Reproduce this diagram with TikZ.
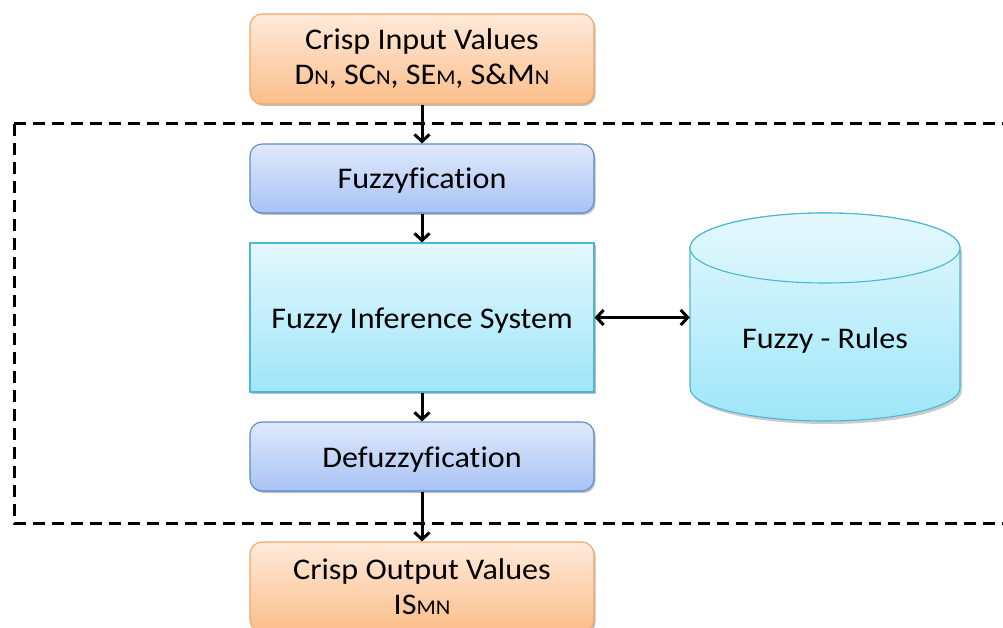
\documentclass[tikz,border=0pt]{standalone}
\usepackage{fontspec}
\setmainfont{Carlito}[Ligatures=NoCommon, FakeStretch=1.07]
\usetikzlibrary{arrows.meta,shadows}

\definecolor{orTop}{HTML}{FEEADB}
\definecolor{orBot}{HTML}{FBBE8A}
\definecolor{orLine}{HTML}{F6A465}
\definecolor{blTop}{HTML}{E0E9FB}
\definecolor{blBot}{HTML}{A7C3F5}
\definecolor{blLine}{HTML}{5A8ACB}
\definecolor{cyTop}{HTML}{E4F8FD}
\definecolor{cyBot}{HTML}{9EE6F9}
\definecolor{cyLine}{HTML}{4DB6D3}

\newcommand\smallsub[1]{{\fontsize{21}{21}\selectfont #1}}

\tikzset{
  softshadow/.style={drop shadow={shadow xshift=1.5pt,shadow yshift=-2pt,opacity=0.25,fill=black}},
  basebox/.style={minimum width=344pt, inner sep=0pt, align=center, line width=1.1pt, softshadow},
  oneline/.style={text height=27pt, text depth=6pt},
  orangebox/.style={basebox, rounded corners=12pt, draw=orLine, top color=orTop, bottom color=orBot, minimum height=90pt},
  bluebox/.style={basebox, oneline, rounded corners=12pt, draw=blLine, top color=blTop, bottom color=blBot, minimum height=69pt},
  cyanbox/.style={basebox, oneline, draw=cyLine, top color=cyTop, bottom color=cyBot, minimum height=149pt},
  barb/.tip={Straight Barb[length=7pt,width=15pt,line width=3pt]},
  flow/.style={line width=3pt, -barb},
  both/.style={line width=3pt, barb-barb},
  frame/.style={line width=3pt, dash pattern=on 12pt off 7pt}
}

\begin{document}
\begin{tikzpicture}[x=1pt,y=1pt,font=\fontsize{30}{35}\selectfont]
\useasboundingbox (0,0) rectangle (1003,-628);
\clip (0,0) rectangle (1003,-628);

% fuzzy system boundary
\draw[frame] (14,-124) -- (1020,-124) (14,-124) -- (14,-523) -- (1020,-523);

% processing chain
\node[orangebox] (in) at (422,-59)
  {Crisp Input Values\\D\smallsub{N}, SC\smallsub{N}, SE\smallsub{M}, S\&M\smallsub{N}};
\node[bluebox] (fz) at (422,-178.5) {Fuzzyfication};
\node[cyanbox] (fis) at (422,-317.5) {Fuzzy Inference System};
\node[bluebox] (dfz) at (422,-456.5) {Defuzzyfication};
\node[orangebox] (out) at (422,-587) {Crisp Output Values\\IS\smallsub{MN}};

% rule base cylinder
\fill[black,opacity=0.2] (692,-250) -- (692,-391) arc[start angle=180,end angle=360,x radius=135,y radius=33] -- (962,-250) -- cycle;
\draw[cyLine, line width=1.1pt, top color=cyTop, bottom color=cyBot]
  (690,-248) -- (690,-388) arc[start angle=180,end angle=360,x radius=135,y radius=33]
  -- (960,-248) arc[start angle=0,end angle=180,x radius=135,y radius=35] -- cycle;
\draw[cyLine, line width=1.1pt, top color=cyTop, bottom color=cyTop!70!cyBot]
  (825,-248) ellipse[x radius=135,y radius=35];
\node[minimum width=270pt, inner sep=0pt, oneline] (rules) at (825,-338) {Fuzzy - Rules};

% connectors
\draw[flow] (in.south) -- (fz.north);
\draw[flow] (fz.south) -- (fis.north);
\draw[flow] (fis.south) -- (dfz.north);
\draw[flow] (dfz.south) -- (out.north);
\draw[both] (fis.east) -- (fis.east -| rules.west);
\end{tikzpicture}
\end{document}
